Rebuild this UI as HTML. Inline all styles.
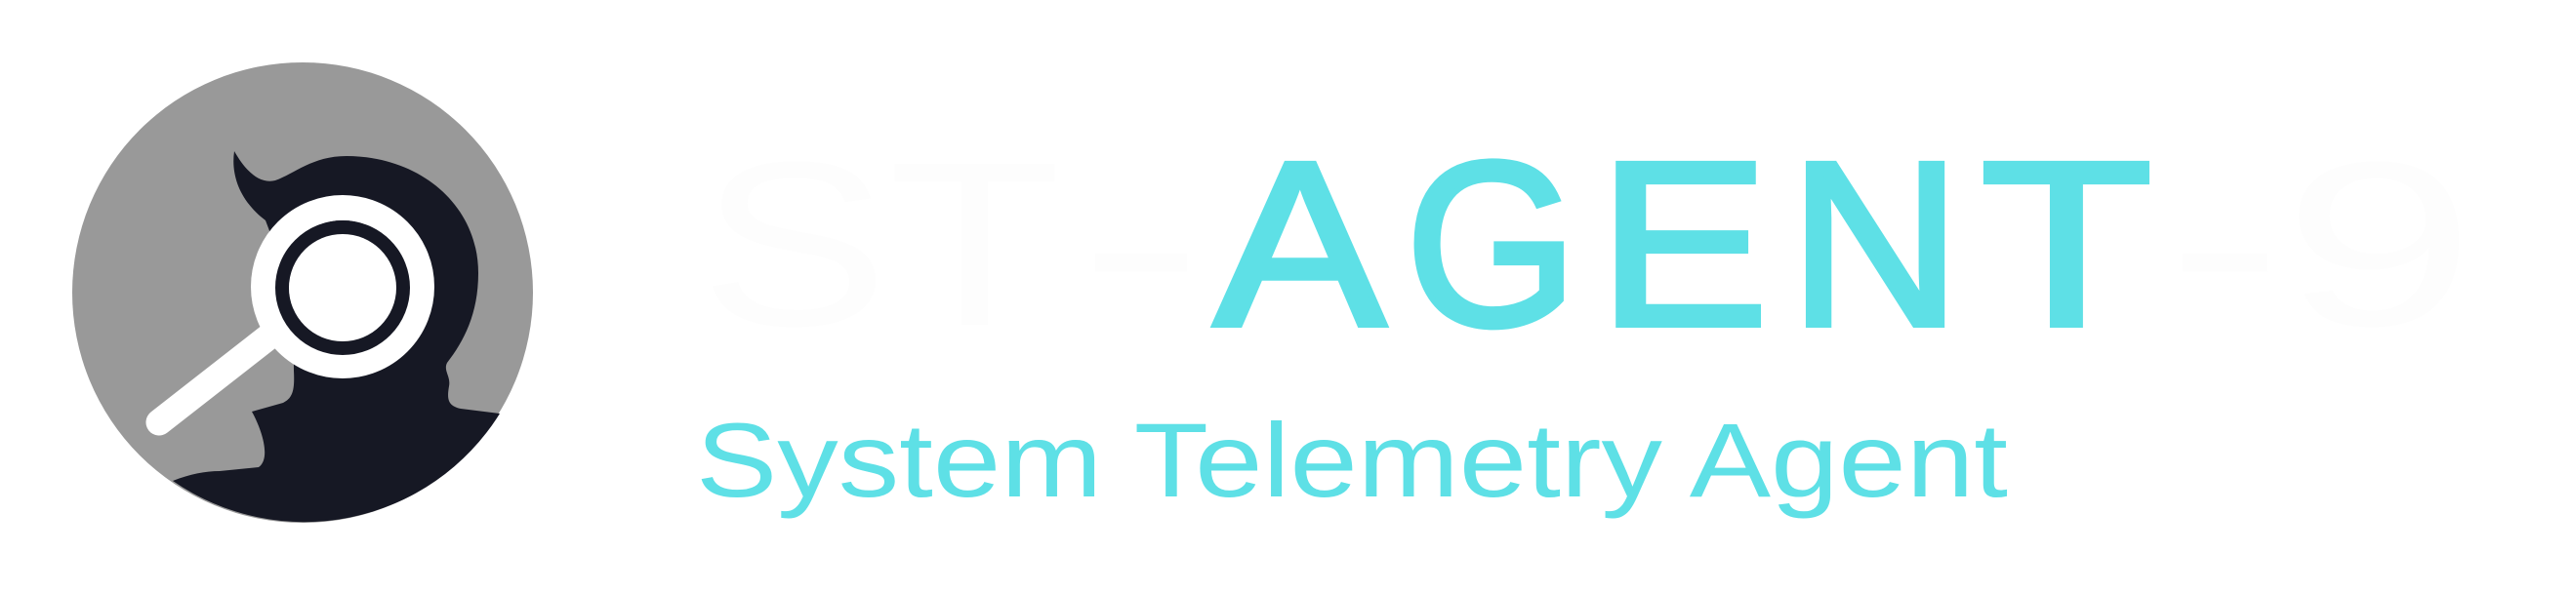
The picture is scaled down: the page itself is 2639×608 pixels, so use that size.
<!DOCTYPE html>
<html><head><meta charset="utf-8"><style>
html,body{margin:0;padding:0;background:#fff;width:2639px;height:608px;overflow:hidden}
svg{display:block}
</style></head><body>
<svg width="2639" height="608" viewBox="0 0 2639 608">
  <g>
    <circle cx="310" cy="300" r="236" fill="#999999"/>
    <path fill="#161824"
      d="M240,155 C252,176 266,189 282,185 C302,178 320,160 355,160 C430,160 490,210 490,280 C490,322 475,350 458,372 C454,380 462,386 460,396 C458,408 458,416 472,419 L512,424 A236,236 0 0,1 177,493 C195,486 210,483 225,483 L265,479 C278,470 268,440 258,422 L290,413 C300,408 302,400 301,380 L300,300 L272,226 C248,208 236,182 240,155 Z"/>
    <line x1="163" y1="433" x2="282" y2="340" stroke="#ffffff" stroke-width="27" stroke-linecap="round"/>
    <circle cx="351" cy="294" r="81" fill="none" stroke="#ffffff" stroke-width="26"/>
    <circle cx="351" cy="295" r="62" fill="none" stroke="#161824" stroke-width="14"/>
    <circle cx="351" cy="295" r="55" fill="#ffffff"/>
  </g>
  <g font-family="'Liberation Sans', sans-serif" font-size="240">
    <text x="717" y="333" fill="#fdfdfd" textLength="370" lengthAdjust="spacingAndGlyphs">ST</text>
    <text x="1105" y="333" fill="#fdfdfd" textLength="128" lengthAdjust="spacingAndGlyphs">-</text>
    <g fill="#5ee0e6" stroke="#5ee0e6" stroke-width="6">
      <text x="1244" y="333" textLength="175" lengthAdjust="spacingAndGlyphs">A</text>
      <text x="1440" y="333" textLength="176" lengthAdjust="spacingAndGlyphs">G</text>
      <text x="1637" y="333" textLength="175" lengthAdjust="spacingAndGlyphs">E</text>
      <text x="1833" y="333" textLength="176" lengthAdjust="spacingAndGlyphs">N</text>
      <text x="2029" y="333" textLength="176" lengthAdjust="spacingAndGlyphs">T</text>
    </g>
    <text x="2220" y="333" fill="#fdfdfd" textLength="316" lengthAdjust="spacingAndGlyphs">-9</text>
  </g>
  <text x="713" y="509" font-family="'Liberation Sans', sans-serif" font-size="108" fill="#5ee0e6" textLength="1344" lengthAdjust="spacingAndGlyphs">System Telemetry Agent</text>
</svg>
</body></html>
